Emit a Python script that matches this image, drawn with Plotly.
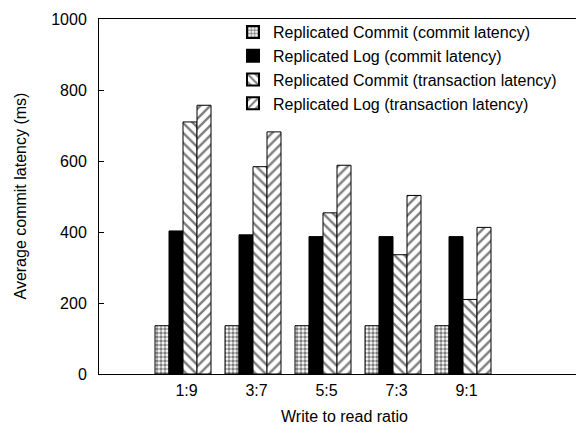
import plotly.graph_objects as go

categories = ["1:9", "3:7", "5:5", "7:3", "9:1"]
series_names = [
    "Replicated Commit (commit latency)",
    "Replicated Log (commit latency)",
    "Replicated Commit (transaction latency)",
    "Replicated Log (transaction latency)",
]
rc_commit = [136, 136, 136, 136, 136]
rl_commit = [403, 392, 387, 387, 387]
rc_txn = [710, 584, 454, 336, 210]
rl_txn = [757, 682, 588, 503, 413]
y_ticks = [0, 200, 400, 600, 800, 1000]

series_values = [rc_commit, rl_commit, rc_txn, rl_txn]
patterns = [
    dict(shape=".", size=4, solidity=0.6, fgcolor="black", bgcolor="white"),
    None,
    dict(shape="\\", size=7, solidity=0.35, fgcolor="black", bgcolor="white"),
    dict(shape="/", size=7, solidity=0.35, fgcolor="black", bgcolor="white"),
]
fills = ["white", "black", "white", "white"]
offsets = [-0.45, -0.25, -0.05, 0.15]

xpos = list(range(len(categories)))
FONT = "Liberation Sans, Arial, Helvetica, sans-serif"
FS = 16

fig = go.Figure()
for name, vals, pat, fc, off in zip(series_names, series_values, patterns, fills, offsets):
    marker = dict(color=fc, line=dict(color="black", width=1))
    if pat is not None:
        marker["pattern"] = pat
    fig.add_trace(go.Bar(x=xpos, y=vals, name=name, width=0.2, offset=off, marker=marker))

# page has an 8px body margin; target page coordinates below
OFF = 8
WIN_W, WIN_H = 584, 426
AX_L, AX_T, AX_B = 99, 19, 374          # plot area in page px
W, H = WIN_W - OFF, WIN_H - OFF
L, T, R, B = AX_L - OFF, AX_T - OFF, 0, WIN_H - AX_B
pw = W - L - R
ph = AX_B - AX_T

shapes = []
for v in y_ticks[1:-1]:
    shapes.append(dict(type="line", xref="paper", yref="y", x0=1 - 2 / pw, x1=1, y0=v, y1=v,
                       line=dict(color="black", width=1)))

fig.update_layout(
    width=W, height=H,
    margin=dict(l=L, r=R, t=T, b=B, pad=0),
    paper_bgcolor="white", plot_bgcolor="white",
    font=dict(family=FONT, size=FS, color="black"),
    barmode="overlay",
    showlegend=True,
    legend=dict(x=(562 - AX_L) / pw, xanchor="right", y=(AX_B - 15) / ph, yanchor="top",
                bgcolor="rgba(0,0,0,0)", font=dict(size=FS), tracegroupgap=0,
                itemsizing="constant"),
    xaxis=dict(range=[-1.25, (WIN_W - 186.5) / 70], tickvals=xpos, ticktext=categories,
               showline=True, linecolor="black", linewidth=1, mirror=True,
               ticks="", showgrid=False, zeroline=False, ticklabelstandoff=2),
    yaxis=dict(range=[0, 1000], tickvals=y_ticks, showline=True, linecolor="black", linewidth=1,
               ticks="inside", ticklen=5, tickcolor="black", showgrid=False, zeroline=False,
               ticklabelstandoff=8),
    shapes=shapes,
    annotations=[
        dict(text="Average commit latency (ms)", xref="paper", yref="paper",
             x=(20 - AX_L) / pw, y=0.5, xanchor="center", yanchor="middle",
             textangle=-90, showarrow=False, font=dict(size=FS)),
        dict(text="Write to read ratio", xref="paper", yref="paper",
             x=(344 - AX_L) / pw, y=-(416 - AX_B) / ph, xanchor="center", yanchor="middle",
             showarrow=False, font=dict(size=FS)),
    ],
)

fig.write_html("out.html")
